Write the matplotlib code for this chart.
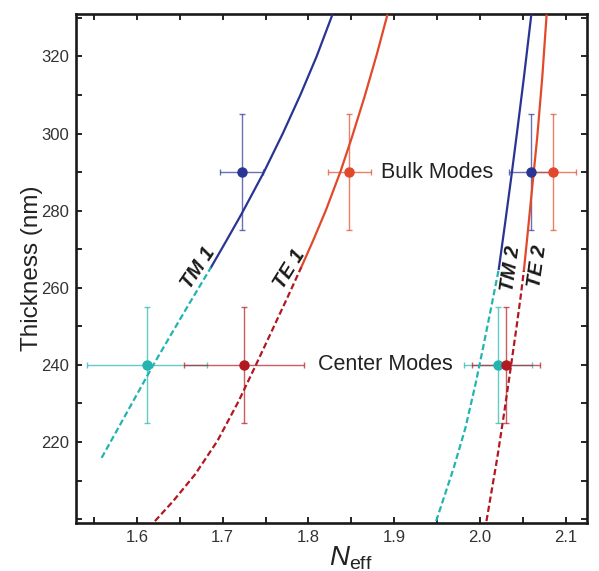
import matplotlib.pyplot as plt
from matplotlib.ticker import MultipleLocator

plt.rcParams['font.family'] = ['Liberation Sans', 'DejaVu Sans']
plt.rcParams['mathtext.fontset'] = 'custom'
plt.rcParams['mathtext.rm'] = 'Liberation Sans'
plt.rcParams['mathtext.it'] = 'Liberation Sans:italic'

# colours
TM_BULK = "#2a3593"
TE_BULK = "#e2492b"
TM_CENTER = "#22b5b0"
TE_CENTER = "#b2181f"

# mode curves: solid part (bulk) and dashed part (center)
tm1_solid_x = [1.6864, 1.7043, 1.7219, 1.7481, 1.7701, 1.7906, 1.8096, 1.8276]
tm1_solid_y = [265.3, 272.2, 279.1, 290.0, 300.0, 310.0, 320.0, 330.6]
tm1_dash_x = [1.5588, 1.5791, 1.5991, 1.6191, 1.6401, 1.6613, 1.6864]
tm1_dash_y = [215.9, 224.0, 232.0, 240.0, 248.0, 256.0, 265.3]

te1_solid_x = [1.7916, 1.8054, 1.8202, 1.8372, 1.8507, 1.8653, 1.8800, 1.8919]
te1_solid_y = [265.3, 272.2, 280.0, 290.0, 299.0, 309.4, 320.7, 330.6]
te1_dash_x = [1.6210, 1.6423, 1.6678, 1.6939, 1.7186, 1.7392, 1.7573, 1.7756, 1.7916]
te1_dash_y = [199.5, 204.7, 211.6, 220.3, 230.6, 240.2, 248.8, 257.5, 265.3]

tm2_solid_x = [2.0221, 2.0293, 2.0366, 2.0441, 2.0514, 2.0599]
tm2_solid_y = [264.9, 276.5, 288.6, 301.6, 314.6, 330.6]
tm2_dash_x = [1.9490, 1.9695, 1.9832, 1.9949, 2.0046, 2.0140, 2.0221]
tm2_dash_y = [199.5, 213.3, 223.7, 235.0, 245.4, 255.8, 264.9]

te2_solid_x = [2.0513, 2.0553, 2.0611, 2.0669, 2.0728, 2.0778]
te2_solid_y = [264.4, 273.1, 286.1, 299.0, 314.6, 330.6]
te2_dash_x = [2.0077, 2.0203, 2.0287, 2.0366, 2.0427, 2.0480, 2.0513]
te2_dash_y = [199.5, 215.9, 228.1, 240.2, 249.7, 258.4, 264.4]

# measured points
bulk_y = 290
bulk_x = [1.7223, 1.8477, 2.0599, 2.0856]
bulk_xerr = [0.025, 0.025, 0.026, 0.027]
bulk_colors = [TM_BULK, TE_BULK, TM_BULK, TE_BULK]

center_y = 240
center_x = [1.612, 1.725, 2.0214, 2.0307]
center_xerr = [0.070, 0.070, 0.040, 0.040]
center_colors = [TM_CENTER, TE_CENTER, TM_CENTER, TE_CENTER]

yerr = 15

# mode labels: text, x, y, rotation
mode_labels = [("TM 1", 1.6718, 265.2, 56), ("TE 1", 1.7776, 264.9, 58),
               ("TM 2", 2.0357, 265.1, 82), ("TE 2", 2.0672, 265.5, 82)]

y_major = [220, 240, 260, 280, 300, 320]

fig = plt.figure(figsize=(5.99, 5.71), dpi=100)
ax = fig.add_axes([0.127, 0.084, 0.853, 0.8915])

for sx, sy, dx, dy, cs, cd in [
    (tm1_solid_x, tm1_solid_y, tm1_dash_x, tm1_dash_y, TM_BULK, TM_CENTER),
    (te1_solid_x, te1_solid_y, te1_dash_x, te1_dash_y, TE_BULK, TE_CENTER),
    (tm2_solid_x, tm2_solid_y, tm2_dash_x, tm2_dash_y, TM_BULK, TM_CENTER),
    (te2_solid_x, te2_solid_y, te2_dash_x, te2_dash_y, TE_BULK, TE_CENTER),
]:
    ax.plot(sx, sy, color=cs, lw=1.6, zorder=3, solid_joinstyle="round")
    ax.plot(dx, dy, color=cd, lw=1.6, ls=(0, (2.8, 1.4)), zorder=3)

for xs, xe, cols, yv in [(bulk_x, bulk_xerr, bulk_colors, bulk_y),
                         (center_x, center_xerr, center_colors, center_y)]:
    for x, e, c in zip(xs, xe, cols):
        ax.errorbar(x, yv, xerr=e, yerr=yerr, fmt="none", ecolor=c, alpha=0.7,
                    elinewidth=1.0, capsize=2.0, capthick=1.0, zorder=2)
        ax.plot(x, yv, "o", color=c, ms=6.5, zorder=4)

ax.text(1.885, bulk_y, "Bulk Modes", fontsize=15.5, color="#222222", va="center", ha="left")
ax.text(1.8115, center_y, "Center Modes", fontsize=15.5, color="#222222", va="center", ha="left")

for txt, x, y, rot in mode_labels:
    ax.text(x, y, txt, fontsize=14.5, fontweight="bold", fontstyle="italic", color="#1a1a1a",
            rotation=rot, ha="center", va="center", rotation_mode="anchor")

ax.set_xlim(1.529, 2.125)
ax.set_ylim(199, 331)
ax.xaxis.set_major_locator(MultipleLocator(0.1))
ax.xaxis.set_minor_locator(MultipleLocator(0.05))
ax.set_yticks(y_major)
ax.yaxis.set_minor_locator(MultipleLocator(10))
ax.tick_params(which="both", direction="in", top=True, right=True, length=4, width=1.2,
               labelsize=12, labelcolor="#333333", pad=5)
for s in ax.spines.values():
    s.set_linewidth(1.9)
    s.set_color("#1a1a1a")

ax.set_ylabel("Thickness (nm)", fontsize=17.5, color="#222222", labelpad=-1)
ax.set_xlabel(r"$N_{\mathrm{eff}}$", fontsize=20, color="#222222")
ax.xaxis.set_label_coords(0.538, -0.042)

fig.savefig("out.png", dpi=100)
